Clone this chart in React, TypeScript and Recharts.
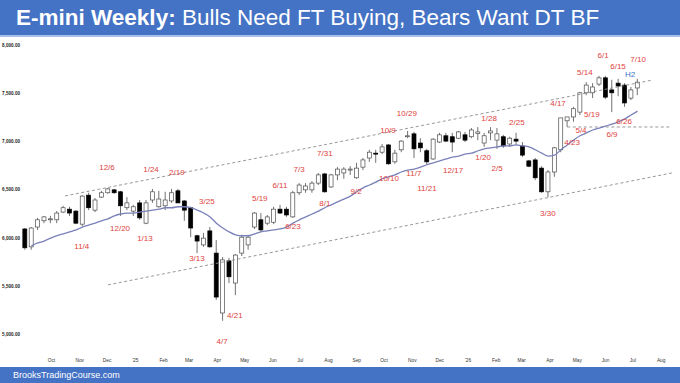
import React from 'react';
import { ComposedChart, Bar, Line, XAxis, YAxis, ReferenceLine, ReferenceDot } from 'recharts';

// weekly bars, week starting dates
const weeks = [
  '2024-09-02', '2024-09-09', '2024-09-16', '2024-09-23', '2024-09-30', '2024-10-07', '2024-10-14', '2024-10-21',
  '2024-10-28', '2024-11-04', '2024-11-11', '2024-11-18', '2024-11-25', '2024-12-02', '2024-12-09', '2024-12-16',
  '2024-12-23', '2024-12-30', '2025-01-06', '2025-01-13', '2025-01-20', '2025-01-27', '2025-02-03', '2025-02-10',
  '2025-02-17', '2025-02-24', '2025-03-03', '2025-03-10', '2025-03-17', '2025-03-24', '2025-03-31', '2025-04-07',
  '2025-04-14', '2025-04-21', '2025-04-28', '2025-05-05', '2025-05-12', '2025-05-19', '2025-05-26', '2025-06-02',
  '2025-06-09', '2025-06-16', '2025-06-23', '2025-06-30', '2025-07-07', '2025-07-14', '2025-07-21', '2025-07-28',
  '2025-08-04', '2025-08-11', '2025-08-18', '2025-08-25', '2025-09-01', '2025-09-08', '2025-09-15', '2025-09-22',
  '2025-09-29', '2025-10-06', '2025-10-13', '2025-10-20', '2025-10-27', '2025-11-03', '2025-11-10', '2025-11-17',
  '2025-11-24', '2025-12-01', '2025-12-08', '2025-12-15', '2025-12-22', '2025-12-29', '2026-01-05', '2026-01-12',
  '2026-01-19', '2026-01-26', '2026-02-02', '2026-02-09', '2026-02-16', '2026-02-23', '2026-03-02', '2026-03-09',
  '2026-03-16', '2026-03-23', '2026-03-30', '2026-04-06', '2026-04-13', '2026-04-20', '2026-04-27', '2026-05-04',
  '2026-05-11', '2026-05-18', '2026-05-25', '2026-06-01', '2026-06-08', '2026-06-15', '2026-06-22', '2026-06-29',
  '2026-07-06',
];

const opens = [
  6095, 5910, 6115, 6180, 6190, 6190, 6270, 6300, 6280, 6145,
  6445, 6290, 6425, 6470, 6500, 6480, 6315, 6280, 6365, 6155,
  6395, 6325, 6335, 6385, 6490, 6385, 6315, 6025, 5930, 6075,
  5845, 5225, 5765, 5535, 5845, 5930, 6115, 6190, 6155, 6165,
  6300, 6300, 6220, 6470, 6500, 6500, 6570, 6665, 6530, 6655,
  6675, 6705, 6625, 6735, 6830, 6880, 6890, 6965, 6790, 6915,
  7050, 7080, 6985, 6905, 6820, 6995, 7060, 7050, 7035, 7070,
  7050, 7085, 6985, 7090, 7015, 7050, 6975, 7025, 6955, 6800,
  6810, 6725, 6480, 6685, 6915, 7215, 7255, 7305, 7505, 7505,
  7595, 7660, 7535, 7605, 7585, 7450, 7555,
];

const highs = [
  6105, 6115, 6210, 6230, 6230, 6280, 6335, 6325, 6290, 6445,
  6470, 6415, 6490, 6520, 6510, 6490, 6425, 6345, 6395, 6395,
  6510, 6490, 6480, 6510, 6510, 6395, 6325, 6035, 6055, 6115,
  5980, 5805, 5795, 5835, 6035, 6035, 6270, 6260, 6240, 6325,
  6345, 6325, 6490, 6570, 6570, 6590, 6675, 6675, 6665, 6735,
  6735, 6745, 6780, 6830, 6915, 6915, 6975, 6975, 6915, 7015,
  7110, 7100, 7035, 6925, 7035, 7090, 7090, 7090, 7110, 7100,
  7140, 7150, 7090, 7150, 7140, 7070, 7050, 7090, 6995, 6810,
  6830, 6745, 6705, 6945, 7245, 7255, 7360, 7515, 7615, 7605,
  7680, 7680, 7640, 7650, 7605, 7565, 7650,
];

const lows = [
  5880, 5880, 6085, 6155, 6155, 6155, 6260, 6230, 6145, 6125,
  6290, 6270, 6415, 6460, 6460, 6230, 6290, 6230, 6190, 6145,
  6365, 6315, 6290, 6365, 6365, 6180, 6010, 5845, 5910, 5900,
  5360, 5145, 5535, 5410, 5815, 5880, 6095, 6065, 6135, 6145,
  6250, 6220, 6210, 6445, 6470, 6470, 6550, 6470, 6520, 6600,
  6615, 6655, 6615, 6705, 6790, 6780, 6870, 6760, 6770, 6890,
  7035, 6830, 6890, 6760, 6810, 6985, 6995, 6890, 7025, 6995,
  7035, 7015, 6945, 7015, 6925, 6935, 6945, 6965, 6840, 6735,
  6600, 6470, 6425, 6635, 6890, 7150, 7205, 7275, 7480, 7450,
  7575, 7440, 7305, 7470, 7360, 7430, 7480,
];

const closes = [
  5900, 6105, 6190, 6220, 6200, 6260, 6315, 6260, 6155, 6435,
  6315, 6395, 6470, 6510, 6470, 6335, 6365, 6325, 6210, 6365,
  6480, 6405, 6395, 6470, 6365, 6290, 6105, 5970, 6000, 5910,
  5390, 5775, 5600, 5825, 6010, 6010, 6260, 6085, 6220, 6300,
  6260, 6240, 6470, 6550, 6540, 6570, 6655, 6480, 6655, 6715,
  6715, 6715, 6725, 6810, 6890, 6870, 6945, 6770, 6880, 7005,
  7060, 6925, 6935, 6790, 7025, 7070, 7005, 6995, 7100, 7015,
  7120, 7100, 7060, 7110, 7080, 6955, 7035, 7005, 6860, 6745,
  6625, 6480, 6685, 6935, 7245, 7255, 7340, 7505, 7585, 7565,
  7660, 7460, 7505, 7575, 7400, 7535, 7615,
];

// 20 week moving average as drawn
const ema20 = [
  null, 5920, 5950, 5970, 6000, 6025, 6045, 6065, 6085, 6115,
  6135, 6155, 6180, 6200, 6230, 6250, 6260, 6260, 6270, 6280,
  6290, 6300, 6315, 6315, 6325, 6325, 6315, 6290, 6260, 6220,
  6155, 6105, 6065, 6035, 6025, 6025, 6045, 6065, 6075, 6085,
  6095, 6115, 6155, 6190, 6220, 6250, 6280, 6315, 6345, 6375,
  6405, 6435, 6480, 6520, 6550, 6580, 6615, 6635, 6655, 6685,
  6705, 6715, 6735, 6760, 6780, 6800, 6820, 6840, 6850, 6870,
  6880, 6905, 6925, 6935, 6945, 6955, 6955, 6965, 6955, 6945,
  6915, 6880, 6850, 6860, 6915, 6965, 7015, 7060, 7090, 7120,
  7140, 7160, 7180, 7205, 7235, 7275, 7315,
];

const monthStarts = [
  '2024-10-01', '2024-11-01', '2024-12-01', '2025-01-01', '2025-02-01', '2025-03-01', '2025-04-01', '2025-05-01',
  '2025-06-01', '2025-07-01', '2025-08-01', '2025-09-01', '2025-10-01', '2025-11-01', '2025-12-01', '2026-01-01',
  '2026-02-01', '2026-03-01', '2026-04-01', '2026-05-01', '2026-06-01', '2026-07-01', '2026-08-01',
];
const monthLabels = [
  'Oct', 'Nov', 'Dec', "'25", 'Feb', 'Mar', 'Apr', 'May', 'Jun', 'Jul', 'Aug', 'Sep', 'Oct', 'Nov', 'Dec', "'26",
  'Feb', 'Mar', 'Apr', 'May', 'Jun', 'Jul', 'Aug',
];
const priceTicks = [5000, 5500, 6000, 6500, 7000, 7500, 8000];

// swing labels: [text, week position, price]
const swingNotes: [string, number, number][] = [
  ['11/4', 8.9, 5920], ['12/6', 12.85, 6735], ['12/20', 14.9, 6105], ['1/24', 19.75, 6715],
  ['1/13', 18.8, 6000], ['2/19', 23.8, 6685], ['3/25', 28.5, 6385], ['3/13', 26.95, 5795],
  ['4/7', 30.9, 4935], ['4/21', 32.9, 5205], ['5/19', 36.8, 6415], ['6/11', 39.95, 6550],
  ['6/23', 42, 6125], ['7/3', 42.95, 6715], ['7/31', 47, 6880], ['8/1', 47, 6365],
  ['9/2', 51.9, 6490], ['10/9', 56.9, 7120], ['10/10', 57.05, 6625], ['10/29', 59.85, 7295],
  ['11/7', 60.95, 6675], ['11/21', 63, 6520], ['12/17', 67.1, 6705], ['1/20', 71.8, 6840],
  ['1/28', 72.75, 7245], ['2/5', 74, 6725], ['2/25', 77.1, 7205], ['3/30', 81.95, 6260],
  ['4/17', 83.55, 7400], ['4/23', 85.75, 6995], ['5/4', 87.15, 7120], ['5/14', 87.75, 7720],
  ['5/19', 88.85, 7285], ['6/1', 90.6, 7895], ['6/9', 92, 7080], ['6/15', 92.95, 7785],
  ['6/26', 93.9, 7215], ['7/10', 96.1, 7855],
];
const h2Note: [string, number, number] = ['H2', 94.85, 7700];

const WEEK_MS = 7 * 24 * 3600 * 1000;
const t0 = Date.parse(weeks[0]);
const monthTicks = monthStarts.map((d) => (Date.parse(d) - t0) / WEEK_MS);

const data = weeks.map((d, i) => ({
  i,
  date: d,
  open: opens[i],
  high: highs[i],
  low: lows[i],
  close: closes[i],
  range: [lows[i], highs[i]],
  ema: ema20[i],
}));

const Candle = (props: any) => {
  const { x, y, width, height, payload } = props;
  if (!payload || height == null) return null;
  const top = Math.min(y, y + height);
  const h = Math.abs(height);
  const { open, close, high, low } = payload;
  const cx = x + width / 2;
  const toY = (v: number) => top + ((high - v) / (high - low)) * h;
  const up = close >= open;
  const bTop = toY(Math.max(open, close));
  const bBot = toY(Math.min(open, close));
  return (
    <g>
      <line x1={cx} x2={cx} y1={top} y2={top + h} stroke="#4d4d4d" strokeWidth={0.8} />
      <rect
        x={cx - 2}
        y={bTop}
        width={4}
        height={Math.max(bBot - bTop, 0.8)}
        fill={up ? '#ffffff' : '#000000'}
        stroke={up ? '#4d4d4d' : '#000000'}
        strokeWidth={0.7}
      />
    </g>
  );
};

const redLabel = '#e0413c';

export default function App() {
  return (
    <div
      style={{
        position: 'absolute',
        left: 0,
        top: 0,
        width: 680,
        height: 383,
        background: '#fff',
        overflow: 'hidden',
        fontFamily: '"Liberation Sans", Arial, sans-serif',
      }}
    >
      <ComposedChart
        width={680}
        height={383}
        data={data}
        margin={{ top: 45, right: 4, bottom: 0, left: 0 }}
      >
        <XAxis
          dataKey="i"
          type="number"
          domain={[-0.63, 102.04]}
          ticks={monthTicks}
          interval={0}
          tickFormatter={(v: number) => monthLabels[monthTicks.indexOf(v)] ?? ''}
          axisLine={false}
          tickLine={false}
          tickSize={0}
          tickMargin={4}
          height={28}
          tick={{ fontSize: 4.8, fill: '#333' }}
          allowDataOverflow
        />
        <YAxis
          type="number"
          domain={[4790, 8000]}
          ticks={priceTicks}
          interval={0}
          tickFormatter={(v: number) => v.toLocaleString('en-US', { minimumFractionDigits: 2 })}
          axisLine={false}
          tickLine={false}
          tickSize={0}
          tickMargin={1}
          width={21}
          tick={{ fontSize: 4.6, fill: '#222', fontWeight: 'bold' }}
          allowDataOverflow
        />
        <ReferenceLine
          segment={[{ x: 6.27, y: 6437 }, { x: 98.4, y: 7638 }]}
          stroke="#8c8c8c"
          strokeDasharray="3 2.5"
          strokeWidth={0.9}
          ifOverflow="visible"
        />
        <ReferenceLine
          segment={[{ x: 13.0, y: 5516 }, { x: 101.4, y: 6675 }]}
          stroke="#8c8c8c"
          strokeDasharray="3 2.5"
          strokeWidth={0.9}
          ifOverflow="visible"
        />
        <ReferenceLine
          segment={[{ x: 85, y: 7151 }, { x: 101.2, y: 7151 }]}
          stroke="#8c8c8c"
          strokeDasharray="3 2.5"
          strokeWidth={0.9}
          ifOverflow="visible"
        />
        <Bar dataKey="range" barSize={4} shape={<Candle />} isAnimationActive={false} />
        <Line
          dataKey="ema"
          type="monotone"
          stroke="#7a80b8"
          strokeWidth={1.3}
          dot={false}
          connectNulls
          isAnimationActive={false}
        />
        {swingNotes.map(([text, w, p], k) => (
          <ReferenceDot
            key={k}
            x={w}
            y={p}
            r={0}
            ifOverflow="visible"
            label={{ value: text, position: 'center', fill: redLabel, fontSize: 8 }}
          />
        ))}
        <ReferenceDot
          x={h2Note[1]}
          y={h2Note[2]}
          r={0}
          ifOverflow="visible"
          label={{ value: h2Note[0], position: 'center', fill: '#3a6fc4', fontSize: 8 }}
        />
      </ComposedChart>
      <div
        style={{
          position: 'absolute',
          left: 0,
          top: 0,
          width: 680,
          height: 35,
          background: '#4472c4',
          borderBottom: '2px solid #a9bfe6',
        }}
      >
        <div
          style={{
            position: 'absolute',
            left: 16,
            top: 6,
            fontSize: 22.5,
            lineHeight: '24px',
            color: '#fff',
            whiteSpace: 'nowrap',
          }}
        >
          <b>E-mini Weekly:</b> Bulls Need FT Buying, Bears Want DT BF
        </div>
      </div>
      <div
        style={{
          position: 'absolute',
          left: 0,
          top: 367,
          width: 680,
          height: 16,
          background: '#4472c4',
        }}
      >
        <div
          style={{
            position: 'absolute',
            left: 13,
            top: 2.5,
            fontSize: 9,
            lineHeight: '11px',
            color: '#fff',
            whiteSpace: 'nowrap',
          }}
        >
          BrooksTradingCourse.com
        </div>
      </div>
    </div>
  );
}
